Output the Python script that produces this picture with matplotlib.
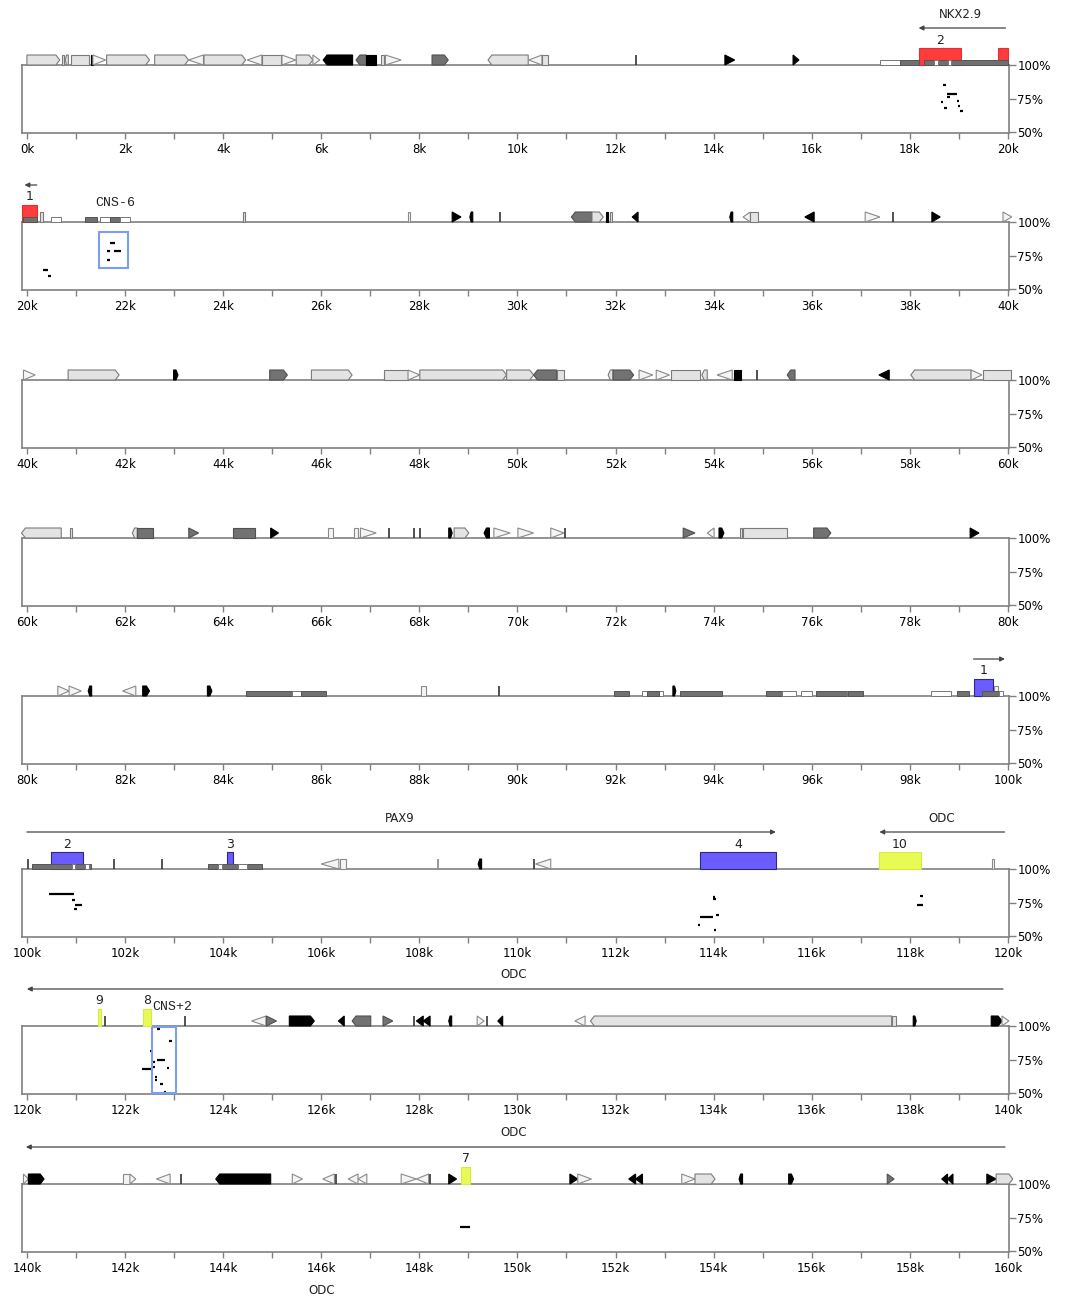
import matplotlib
matplotlib.use('Agg')
import matplotlib.pyplot as plt
from matplotlib.patches import Polygon, Rectangle
from matplotlib.transforms import blended_transform_factory

# ---------------- data (positions in kb) ----------------
PANEL_STARTS = [0, 20, 40, 60, 80, 100, 120, 140]
Y_TICKS = [100, 75, 50]
Y_TICK_LABELS = ["100%", "75%", "50%"]

# repeats: (start, end, orientation/shape, repeat class)
REPEATS_P1 = [(0.0, 0.67, 'R', 'lt'), (0.71, 0.76, 'B', 'lt'), (0.78, 0.845, 'L', 'lt'),
              (0.89, 1.275, 'B', 'lt'), (1.3, 1.345, 'B', 'bk'), (1.345, 1.605, 'r', 'wt'),
              (1.625, 2.5, 'R', 'lt'), (2.605, 3.295, 'R', 'lt'), (3.295, 3.6, 'l', 'wt'),
              (3.61, 4.46, 'R', 'lt'), (4.49, 4.79, 'l', 'wt'), (4.79, 5.175, 'B', 'lt'),
              (5.2, 5.48, 'r', 'wt'), (5.49, 5.83, 'R', 'lt'), (5.83, 5.97, 'r', 'wt'),
              (6.04, 6.64, 'L', 'bk'), (6.71, 6.92, 'L', 'dk'), (6.92, 7.12, 'B', 'bk'),
              (7.22, 7.29, 'B', 'lt'), (7.31, 7.63, 'r', 'wt'), (8.26, 8.59, 'R', 'dk'),
              (9.4, 10.22, 'L', 'lt'), (10.23, 10.5, 'l', 'wt'), (10.5, 10.62, 'B', 'lt'),
              (12.42, 12.44, 'T', 'bk'), (14.23, 14.43, 'r', 'bk'), (15.62, 15.74, 'r', 'bk')]
REPEATS_P2 = [(20.27, 20.32, 'B', 'lt'), (24.41, 24.45, 'B', 'lt'), (27.76, 27.82, 'B', 'wt'),
              (28.67, 28.85, 'r', 'bk'), (29.03, 29.09, 'L', 'bk'), (29.65, 29.67, 'T', 'bk'),
              (31.1, 31.52, 'L', 'dk'), (31.52, 31.75, 'R', 'lt'), (31.8, 31.85, 'B', 'bk'),
              (31.88, 31.93, 'B', 'lt'), (32.34, 32.46, 'l', 'bk'), (34.33, 34.39, 'L', 'bk'),
              (34.6, 34.75, 'l', 'wt'), (34.75, 34.9, 'B', 'lt'), (35.86, 36.05, 'l', 'bk'),
              (37.09, 37.39, 'r', 'wt'), (37.66, 37.68, 'T', 'bk'), (38.45, 38.62, 'r', 'bk'),
              (39.9, 40.08, 'r', 'wt')]
REPEATS_P3 = [(39.93, 40.17, 'r', 'wt'), (40.84, 41.88, 'R', 'lt'), (42.99, 43.08, 'R', 'bk'),
              (44.95, 45.31, 'R', 'dk'), (45.8, 46.63, 'R', 'lt'), (47.28, 47.77, 'B', 'lt'),
              (47.77, 48.01, 'r', 'wt'), (48.01, 49.78, 'R', 'lt'), (49.78, 50.33, 'R', 'lt'),
              (50.33, 50.8, 'L', 'dk'), (50.81, 50.95, 'B', 'lt'), (51.85, 51.95, 'L', 'lt'),
              (51.95, 52.37, 'R', 'dk'), (52.48, 52.76, 'r', 'wt'), (52.83, 53.1, 'r', 'wt'),
              (53.14, 53.73, 'B', 'lt'), (53.76, 53.87, 'L', 'lt'), (54.07, 54.38, 'l', 'wt'),
              (54.42, 54.56, 'B', 'bk'), (54.88, 54.9, 'T', 'bk'), (55.5, 55.66, 'L', 'dk'),
              (57.37, 57.58, 'l', 'bk'), (58.02, 59.25, 'L', 'lt'), (59.25, 59.47, 'r', 'wt'),
              (59.5, 60.07, 'B', 'lt')]
REPEATS_P4 = [(59.89, 60.7, 'L', 'lt'), (60.88, 60.92, 'B', 'lt'), (62.15, 62.25, 'L', 'lt'),
              (62.25, 62.57, 'B', 'dk'), (63.3, 63.5, 'r', 'dk'), (64.2, 64.65, 'B', 'dk'),
              (64.97, 65.13, 'r', 'bk'), (66.14, 66.24, 'B', 'wt'), (66.66, 66.76, 'B', 'wt'),
              (66.8, 67.12, 'r', 'wt'), (67.38, 67.4, 'T', 'bk'), (67.9, 67.93, 'T', 'bk'),
              (68.01, 68.04, 'T', 'bk'), (68.6, 68.67, 'R', 'bk'), (68.71, 69.01, 'R', 'lt'),
              (69.32, 69.43, 'L', 'bk'), (69.52, 69.85, 'r', 'wt'), (70.01, 70.33, 'r', 'wt'),
              (70.68, 70.95, 'r', 'wt'), (70.98, 71.0, 'T', 'bk'), (73.38, 73.62, 'r', 'dk'),
              (73.87, 74.01, 'l', 'wt'), (74.11, 74.21, 'R', 'bk'), (74.53, 74.58, 'B', 'lt'),
              (74.6, 75.5, 'B', 'lt'), (76.04, 76.39, 'R', 'dk'), (79.23, 79.41, 'r', 'bk')]
REPEATS_P5 = [(80.63, 80.86, 'r', 'wt'), (80.86, 81.11, 'r', 'wt'), (81.25, 81.32, 'L', 'bk'),
              (81.95, 82.22, 'l', 'wt'), (82.36, 82.5, 'R', 'bk'), (83.68, 83.77, 'R', 'bk'),
              (88.04, 88.14, 'B', 'wt'), (89.63, 89.65, 'T', 'bk'), (93.17, 93.23, 'R', 'bk'),
              (99.72, 99.8, 'B', 'wt')]
REPEATS_P6 = [(100.02, 100.05, 'T', 'bk'), (101.78, 101.8, 'T', 'bk'), (102.76, 102.78, 'T', 'bk'),
              (106.0, 106.36, 'l', 'wt'), (106.39, 106.5, 'B', 'wt'), (108.38, 108.4, 'T', 'lt'),
              (109.2, 109.27, 'L', 'bk'), (110.34, 110.37, 'T', 'bk'), (110.37, 110.68, 'l', 'wt'),
              (119.67, 119.72, 'B', 'wt')]
REPEATS_P7 = [(121.59, 121.61, 'T', 'bk'), (123.23, 123.25, 'T', 'bk'), (124.58, 124.88, 'l', 'wt'),
              (124.88, 125.09, 'r', 'dk'), (125.35, 125.86, 'R', 'bk'), (126.35, 126.47, 'l', 'bk'),
              (126.63, 127.01, 'L', 'dk'), (127.26, 127.46, 'r', 'dk'), (127.89, 127.91, 'T', 'bk'),
              (127.94, 128.08, 'l', 'bk'), (128.08, 128.22, 'l', 'bk'), (128.6, 128.66, 'L', 'bk'),
              (129.18, 129.32, 'r', 'wt'), (129.37, 129.39, 'T', 'bk'), (129.6, 129.7, 'l', 'bk'),
              (131.17, 131.38, 'l', 'wt'), (131.49, 137.63, 'L', 'lt'), (137.63, 137.71, 'B', 'lt'),
              (138.07, 138.13, 'R', 'bk'), (139.66, 139.88, 'R', 'bk'), (139.88, 140.02, 'r', 'wt')]
REPEATS_P8 = [(139.93, 140.03, 'r', 'wt'), (140.03, 140.35, 'R', 'bk'), (141.95, 142.1, 'B', 'wt'),
              (142.1, 142.22, 'r', 'wt'), (142.64, 142.92, 'l', 'wt'), (143.15, 143.17, 'T', 'bk'),
              (143.85, 144.97, 'L', 'bk'), (145.41, 145.62, 'r', 'wt'), (146.03, 146.27, 'l', 'wt'),
              (146.3, 146.32, 'T', 'bk'), (146.55, 146.75, 'l', 'wt'), (146.75, 146.93, 'l', 'wt'),
              (147.63, 147.94, 'r', 'wt'), (147.94, 148.19, 'l', 'wt'), (148.21, 148.23, 'T', 'bk'),
              (148.6, 148.76, 'r', 'bk'), (151.07, 151.23, 'r', 'bk'), (151.23, 151.51, 'r', 'wt'),
              (152.27, 152.41, 'l', 'bk'), (152.41, 152.55, 'l', 'bk'), (153.35, 153.62, 'r', 'wt'),
              (153.62, 154.03, 'R', 'lt'), (154.52, 154.59, 'L', 'bk'), (155.53, 155.63, 'R', 'bk'),
              (157.54, 157.68, 'r', 'dk'), (158.65, 158.77, 'l', 'bk'), (158.77, 158.88, 'l', 'bk'),
              (159.57, 159.76, 'r', 'bk'), (159.76, 160.1, 'R', 'lt')]
REPEATS = [REPEATS_P1, REPEATS_P2, REPEATS_P3, REPEATS_P4,
           REPEATS_P5, REPEATS_P6, REPEATS_P7, REPEATS_P8]

# CpG / GC-rich bars: (start, end, class)
CPG_P1 = [(17.4, 17.8, 'wt'), (17.8, 18.18, 'dk'), (18.28, 20.0, 'dk'),
          (18.49, 18.57, 'wt'), (18.77, 18.84, 'wt')]
CPG_P2 = [(19.93, 20.21, 'dk'), (20.5, 20.7, 'wt'), (21.19, 21.42, 'dk'),
          (21.49, 21.69, 'wt'), (21.69, 21.9, 'dk'), (21.9, 22.1, 'wt')]
CPG_P5 = [(84.47, 85.41, 'dk'), (85.41, 85.59, 'wt'), (85.59, 86.1, 'dk'), (91.97, 92.27, 'dk'),
          (92.55, 92.96, 'wt'), (92.64, 92.89, 'dk'), (93.31, 94.17, 'dk'), (95.07, 95.39, 'dk'),
          (95.39, 95.67, 'wt'), (95.78, 96.01, 'wt'), (96.08, 96.71, 'dk'), (96.71, 96.75, 'wt'),
          (96.75, 97.05, 'dk'), (98.44, 98.85, 'wt'), (98.97, 99.2, 'dk'), (99.47, 99.82, 'dk'),
          (99.82, 99.9, 'wt')]
CPG_P6 = [(100.1, 101.3, 'dk'), (100.91, 100.98, 'wt'), (101.19, 101.26, 'wt'),
          (103.69, 104.79, 'dk'), (103.9, 103.97, 'wt'), (104.3, 104.48, 'wt')]
CPG = [CPG_P1, CPG_P2, [], [], CPG_P5, CPG_P6, [], []]

# exons: (start, end, gene colour code, exon number)
EXONS_P1 = [(18.18, 19.04, 'nkx', '2'), (19.79, 20.0, 'nkx', '')]
EXONS_P2 = [(19.9, 20.21, 'nkx', '1')]
EXONS_P5 = [(99.3, 99.69, 'pax', '1')]
EXONS_P6 = [(100.49, 101.14, 'pax', '2'), (104.07, 104.2, 'pax', '3'),
            (113.72, 115.27, 'pax', '4'), (117.38, 118.22, 'odc', '10')]
EXONS_P7 = [(121.45, 121.51, 'odc', '9'), (122.37, 122.53, 'odc', '8')]
EXONS_P8 = [(148.85, 149.04, 'odc', '7')]
EXONS = [EXONS_P1, EXONS_P2, [], [], EXONS_P5, EXONS_P6, EXONS_P7, EXONS_P8]

# gene arrows: (panel, name, label x, arrow from, arrow to)
GENES = [(0, 'NKX2.9', 19.04, 19.95, 18.18),
         (1, '', 0, 20.2, 19.95),
         (4, '', 0, 99.3, 99.94),
         (5, 'PAX9', 107.6, 100.0, 115.27),
         (5, 'ODC', 118.66, 119.93, 117.38),
         (6, 'ODC', 129.93, 139.9, 120.0),
         (7, 'ODC', 149.93, 159.94, 139.98)]
TAIL_LABEL = ('ODC', 146.0)

# conserved non-coding sequences: (panel, name, x0, x1, pct low, pct high, label x, label align)
CNS = [(1, 'CNS-6', 21.48, 22.06, 66.0, 92.6, 21.8, 'center'),
       (6, 'CNS+2', 122.56, 123.04, 50.2, 99.6, 122.56, 'left')]

# percent-identity segments: (start, end, percent identity)
PIP_P1 = [(18.7, 18.72, 85.2), (18.75, 18.97, 78.6), (18.78, 18.8, 75.9), (18.65, 18.67, 72.4),
          (18.96, 19.0, 73.0), (18.99, 19.01, 69.7), (18.72, 18.74, 68.0), (19.04, 19.06, 65.5)]
PIP_P2 = [(20.32, 20.42, 64.3), (20.42, 20.49, 59.4), (21.69, 21.8, 84.0),
          (21.65, 21.67, 78.3), (21.78, 21.92, 78.3), (21.65, 21.67, 71.7)]
PIP_P6 = [(100.46, 100.95, 81.5), (100.91, 100.98, 77.0), (100.98, 101.12, 73.4),
          (100.98, 101.01, 70.4), (113.99, 114.03, 79.0), (114.0, 114.03, 77.5),
          (113.72, 113.99, 64.0), (114.05, 114.11, 65.4), (113.68, 113.72, 58.0),
          (114.0, 114.05, 54.5), (118.22, 118.25, 79.5), (118.15, 118.27, 73.0)]
PIP_P7 = [(122.67, 122.69, 97.5), (122.92, 122.94, 89.0), (122.52, 122.54, 81.5),
          (122.65, 122.82, 74.6), (122.58, 122.6, 73.0), (122.35, 122.56, 68.0),
          (122.86, 122.9, 69.0), (122.57, 122.59, 69.7), (122.61, 122.65, 61.8),
          (122.62, 122.64, 60.0), (122.73, 122.75, 57.0), (122.81, 122.83, 51.0)]
PIP_P8 = [(148.83, 149.04, 68.0)]
PIP = [PIP_P1, PIP_P2, [], [], [], PIP_P6, PIP_P7, PIP_P8]

# ---------------- styles ----------------
REP_COLORS = {'lt': ('#e3e3e3', '#7a7a7a'), 'dk': ('#727272', '#505050'),
              'bk': ('#000000', '#000000'), 'wt': ('#f4f4f4', '#8a8a8a')}
CPG_COLORS = {'dk': ('#707070', '#555555'), 'wt': ('#ffffff', '#777777')}
EXON_COLORS = {'nkx': ('#ff3b3b', '#e03030'), 'pax': ('#6a5cff', '#2a2a80'),
               'odc': ('#e8fb55', '#d8ea40')}
FRAME = '#808080'
REP_H = 10
CPG_H = 5.5
EXON_H = 17

W, H = 1066, 1299
BOX_TOPS = [65, 222, 380, 538, 696, 869, 1026, 1184]
BOX_H = 68
LEFT_PX = 22
PX_PER_KB = 49.05
PAD_L, PAD_R = 0.1, 0.02
ANN_H = 60
YMIN = 49.3

fig = plt.figure(figsize=(W / 100, H / 100), dpi=100)
plt.rcParams['font.family'] = ['DejaVu Sans']
width_px = (20 + PAD_L + PAD_R) * PX_PER_KB


def draw_repeat(ax, x0, x1, shape, cls):
    fc, ec = REP_COLORS[cls]
    if shape == 'T':
        ax.plot([x0, x0], [0, REP_H], color='#333333' if cls == 'bk' else '#888888',
                lw=1.2, solid_capstyle='butt', clip_on=False, zorder=3)
        return
    w = max(x1 - x0, 0.04)
    x1 = x0 + w
    tip = min(0.45 * w, 0.08)
    h = REP_H
    if shape == 'R':
        pts = [(x0, 0), (x1 - tip, 0), (x1, h / 2), (x1 - tip, h), (x0, h)]
    elif shape == 'L':
        pts = [(x0 + tip, 0), (x1, 0), (x1, h), (x0 + tip, h), (x0, h / 2)]
    elif shape == 'r':
        pts = [(x0, 0), (x1, h / 2), (x0, h)]
    elif shape == 'l':
        pts = [(x1, 0), (x0, h / 2), (x1, h)]
    else:
        pts = [(x0, 0), (x1, 0), (x1, h), (x0, h)]
    ax.add_patch(Polygon(pts, closed=True, fc=fc, ec=ec, lw=0.8, clip_on=False, zorder=3))


for i, s in enumerate(PANEL_STARTS):
    top = BOX_TOPS[i]
    ax = fig.add_axes([LEFT_PX / W, 1 - (top + BOX_H) / H, width_px / W, BOX_H / H])
    ax.set_xlim(s - PAD_L, s + 20 + PAD_R)
    ax.set_ylim(YMIN, 100)
    for sp in ax.spines.values():
        sp.set_color(FRAME)
        sp.set_linewidth(1.2)
    ax.set_xticks(list(range(s, s + 21, 2)))
    ax.set_xticklabels([f'{v}k' for v in range(s, s + 21, 2)])
    ax.set_xticks(list(range(s + 1, s + 20, 2)), minor=True)
    ax.tick_params(axis='x', which='both', direction='out', length=4, width=1,
                   color=FRAME, labelsize=8.5, pad=3)
    ax.yaxis.tick_right()
    ax.set_yticks(Y_TICKS)
    ax.set_yticklabels(Y_TICK_LABELS)
    ax.tick_params(axis='y', direction='out', length=5, width=1, color=FRAME,
                   labelsize=8.5, pad=1)

    for x0, x1, p in PIP[i]:
        if x1 - x0 < 0.05:
            c = (x0 + x1) / 2
            x0, x1 = c - 0.025, c + 0.025
        ax.hlines(p, x0, x1, color='black', lw=1.6, zorder=4)

    ann = fig.add_axes([LEFT_PX / W, 1 - top / H, width_px / W, ANN_H / H])
    ann.set_xlim(s - PAD_L, s + 20 + PAD_R)
    ann.set_ylim(0, ANN_H)
    ann.axis('off')
    ann.patch.set_alpha(0)

    for x0, x1, shape, cls in REPEATS[i]:
        draw_repeat(ann, x0, x1, shape, cls)
    for x0, x1, code, lab in EXONS[i]:
        fc, ec = EXON_COLORS[code]
        ann.add_patch(Rectangle((x0, 0), max(x1 - x0, 0.05), EXON_H, fc=fc, ec=ec, lw=0.8,
                                clip_on=False, zorder=4))
        if lab:
            ann.text((x0 + x1) / 2, 25, lab, ha='center', va='center', fontsize=9,
                     color='#222222')
    for x0, x1, cls in CPG[i]:
        fc, ec = CPG_COLORS[cls]
        ann.add_patch(Rectangle((x0, 0), x1 - x0, CPG_H, fc=fc, ec=ec, lw=0.7,
                                clip_on=False, zorder=5))
    for pi, name, lx, a0, a1 in GENES:
        if pi != i:
            continue
        ann.annotate('', xy=(a1, 37), xytext=(a0, 37), annotation_clip=False,
                     arrowprops=dict(arrowstyle='-|>', color='#444444', lw=0.9,
                                     mutation_scale=7, shrinkA=0, shrinkB=0))
        if name:
            ann.text(lx, 51, name, ha='center', va='center', fontsize=8.5, color='#222222')
    for pi, name, x0, x1, y0, y1, lx, al in CNS:
        if pi != i:
            continue
        ax.add_patch(Rectangle((x0, y0), x1 - x0, y1 - y0, fill=False, ec='#7b9ef0',
                               lw=1.5, zorder=5))
        ann.text(lx, 19, name, ha=al, va='center', fontsize=9.5,
                 family=['Liberation Mono', 'DejaVu Sans Mono'], color='#222222')

    if i == len(PANEL_STARTS) - 1:
        tr = blended_transform_factory(ax.transData, ax.transAxes)
        ax.text(TAIL_LABEL[1], -0.56, TAIL_LABEL[0], transform=tr, ha='center',
                va='center', fontsize=8.5, color='#222222')

fig.savefig('out.png', dpi=100)
